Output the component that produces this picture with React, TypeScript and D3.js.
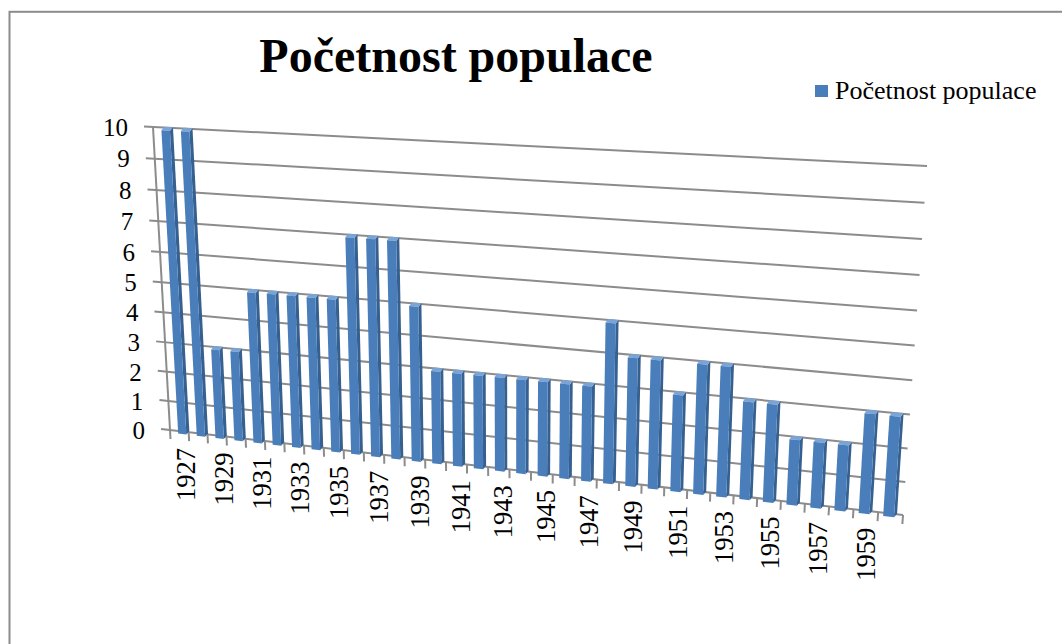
import * as d3 from "d3";

const years = [
  "1927", "1928", "1929", "1930", "1931", "1932", "1933", "1934", "1935",
  "1936", "1937", "1938", "1939", "1940", "1941", "1942", "1943", "1944",
  "1945", "1946", "1947", "1948", "1949", "1950", "1951", "1952", "1953",
  "1954", "1955", "1956", "1957", "1958", "1959", "1960",
];
const population = [
  10, 10, 3, 3, 5, 5, 5, 5, 5,
  7, 7, 7, 5, 3, 3, 3, 3, 3,
  3, 3, 3, 5, 4, 4, 3, 4, 4,
  3, 3, 2, 2, 2, 3, 3,
];
const valueTicks = [0, 1, 2, 3, 4, 5, 6, 7, 8, 9, 10];
const seriesName = "Početnost populace";
const chartTitle = "Početnost populace";

type Pt = [number, number];

// square (s,t) -> quad, p0=(0,0) p1=(1,0) p2=(1,1) p3=(0,1)
function homography(p0: Pt, p1: Pt, p2: Pt, p3: Pt) {
  const [x0, y0] = p0, [x1, y1] = p1, [x2, y2] = p2, [x3, y3] = p3;
  const dx1 = x1 - x2, dx2 = x3 - x2, dx3 = x0 - x1 + x2 - x3;
  const dy1 = y1 - y2, dy2 = y3 - y2, dy3 = y0 - y1 + y2 - y3;
  const den = dx1 * dy2 - dx2 * dy1;
  const g = (dx3 * dy2 - dx2 * dy3) / den;
  const h = (dx1 * dy3 - dx3 * dy1) / den;
  const a = x1 - x0 + g * x1, b = x3 - x0 + h * x3, c = x0;
  const d = y1 - y0 + g * y1, e = y3 - y0 + h * y3, f = y0;
  return (s: number, t: number): Pt => {
    const w = g * s + h * t + 1;
    return [(a * s + b * t + c) / w, (d * s + e * t + f) / w];
  };
}

const W = 1062;
const H = 644;
const FONT = "'Liberation Serif', 'Times New Roman', serif";

export default function App() {
  // back wall of the 3d plot
  const proj = homography([170, 430], [903, 515], [927, 166], [153, 127]);
  // plane the columns stand in (a little in front of the wall on the left)
  const barProj = homography([176, 430], [904, 515], [927, 166], [159, 127]);

  const x = d3
    .scaleBand<string>()
    .domain(years)
    .range([0, 1])
    .paddingInner(0.56)
    .paddingOuter(0.28);
  const y = d3.scaleLinear().domain([0, 10]).range([0, 1]);

  const line = d3.line();
  const poly = (pts: Pt[]) => line(pts) + "Z";
  const add = (p: Pt, o: Pt): Pt => [p[0] + o[0], p[1] + o[1]];
  const down = (pr: typeof proj, s: number, dist: number) => {
    const p0 = pr(s, 0);
    const p1 = pr(s, 1);
    const len = Math.hypot(p0[0] - p1[0], p0[1] - p1[1]);
    return add(p0, [((p0[0] - p1[0]) / len) * dist, ((p0[1] - p1[1]) / len) * dist]);
  };

  const front: Pt = [-3, 3];
  const back: Pt = [0, -0.5];

  const bars = years.map((yr, i) => {
    const s0 = x(yr)!;
    const s1 = s0 + x.bandwidth();
    const t = y(population[i]);
    const q = [barProj(s0, 0), barProj(s1, 0), barProj(s1, t), barProj(s0, t)];
    const f = q.map((p) => add(p, front));
    const b = q.map((p) => add(p, back));
    return {
      yr,
      front: poly(f),
      side: poly([f[1], f[2], b[2], b[1]]),
      top: poly([f[3], f[2], b[2], b[3]]),
    };
  });

  const step = x.step();
  const catTicks = d3.range(years.length + 1).map((k) => ({
    p0: proj(k * step, 0),
    p1: down(proj, k * step, 9),
  }));

  const catLabels = years
    .filter((_, i) => i % 2 === 0)
    .map((yr) => ({
      yr,
      p: down(barProj, x(yr)! + x.bandwidth() / 2, 17),
    }));

  const grid = valueTicks.map((v) => {
    const l = proj(0, y(v));
    const r = proj(1, y(v));
    const len = Math.hypot(r[0] - l[0], r[1] - l[1]);
    const dir: Pt = [(l[0] - r[0]) / len, (l[1] - r[1]) / len];
    return { v, l, r, tick: add(l, [dir[0] * 9, dir[1] * 9]) };
  });

  const gridColor = "#8c8c8c";

  return (
    <svg
      width={W}
      height={H}
      style={{ position: "absolute", left: 0, top: 0, background: "#fff" }}
    >
      <rect x={0} y={0} width={W} height={H} fill="#fff" />
      <rect
        x={9.5}
        y={11.8}
        width={1200}
        height={800}
        fill="none"
        stroke={gridColor}
        strokeWidth={2}
      />

      <text
        x={456}
        y={72}
        textAnchor="middle"
        fontFamily={FONT}
        fontWeight="bold"
        fontSize={48}
      >
        {chartTitle}
      </text>

      {/* legend */}
      <rect x={815} y={85} width={13} height={12} fill="#4a7ebb" />
      <text x={835} y={98.5} fontFamily={FONT} fontSize={26}>
        {seriesName}
      </text>

      {/* gridlines on back wall */}
      <g stroke={gridColor} strokeWidth={2} fill="none">
        {grid.map((g) => (
          <line key={g.v} x1={g.tick[0]} y1={g.tick[1]} x2={g.r[0]} y2={g.r[1]} />
        ))}
        <line
          x1={proj(0, 0)[0]}
          y1={proj(0, 0)[1]}
          x2={proj(0, 1)[0]}
          y2={proj(0, 1)[1]}
        />
        {catTicks.map((t, k) => (
          <line key={k} x1={t.p0[0]} y1={t.p0[1]} x2={t.p1[0]} y2={t.p1[1]} />
        ))}
      </g>

      {/* value axis labels */}
      <g fontFamily={FONT} fontSize={25} textAnchor="end">
        {grid.map((g) => (
          <text key={g.v} x={g.l[0] - 25} y={g.l[1]} dy="0.35em">
            {g.v}
          </text>
        ))}
      </g>

      {/* bars */}
      {bars.map((b) => (
        <g key={b.yr}>
          <path d={b.side} fill="#36608f" />
          <path d={b.top} fill="#7aa3d6" />
          <path d={b.front} fill="#4a7ebb" />
        </g>
      ))}

      {/* category labels */}
      <g fontFamily={FONT} fontSize={26.5} textAnchor="end">
        {catLabels.map((l) => (
          <text
            key={l.yr}
            transform={`translate(${l.p[0]},${l.p[1]}) rotate(-90)`}
            dy="0.35em"
          >
            {l.yr}
          </text>
        ))}
      </g>
    </svg>
  );
}
